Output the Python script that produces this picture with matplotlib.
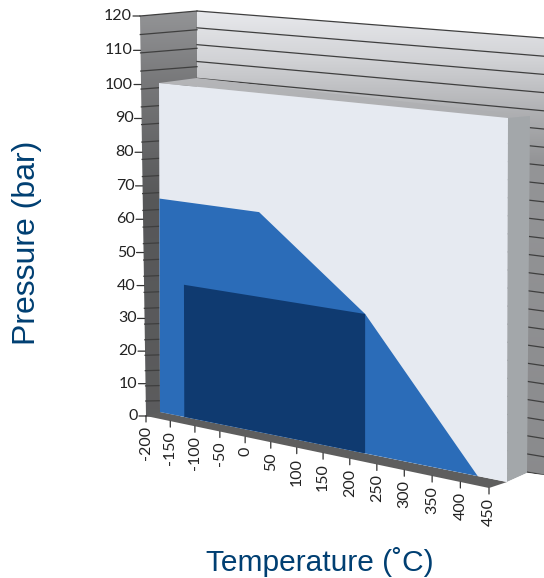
import numpy as np
import matplotlib
matplotlib.use("Agg")
import matplotlib.pyplot as plt
from matplotlib.patches import Polygon
from matplotlib.transforms import Transform

# Data
temp_ticks = [-200, -150, -100, -50, 0, 50, 100, 150, 200, 250, 300, 350, 400, 450]
pressure_ticks = [0, 10, 20, 30, 40, 50, 60, 70, 80, 90, 100, 110, 120]
grid_pressures = [0, 5, 10, 15, 20, 25, 30, 35, 40, 45, 50, 55, 60, 65, 70, 75, 80, 85, 90, 95, 100, 105, 110, 115, 120]

outer_temp = [-200, 0, 200, 400]
outer_pressure = [65, 65, 40, 0]
inner_temp = [-150, 200]
inner_pressure = [0, 40]

NAVY = "#003f72"


# Maps one plane of the fake 3D box onto the picture (pixels, y down)
class Plane(Transform):
    input_dims = 2
    output_dims = 2
    is_separable = False

    def __init__(self, src, dst):
        super().__init__()
        rows = []
        rhs = []
        for (u, v), (x, y) in zip(src, dst):
            rows.append([u, v, 1, 0, 0, 0, -u * x, -v * x])
            rows.append([0, 0, 0, u, v, 1, -u * y, -v * y])
            rhs += [x, y]
        h = np.linalg.solve(np.array(rows, float), np.array(rhs, float))
        self.h = np.append(h, 1).reshape(3, 3)

    def transform_non_affine(self, values):
        pts = np.column_stack([values, np.ones(len(values))]) @ self.h.T
        return pts[:, :2] / pts[:, 2:]


fig = plt.figure(figsize=(5.44, 5.78), dpi=100)
ax = fig.add_axes([0, 0, 1, 1])
ax.axis("off")

t_min, t_max = temp_ticks[0], temp_ticks[-1]
p_max = pressure_ticks[-1]

# Same corners in data units, different picture corners for each plane
data_box = [(t_min, 0), (t_max, 0), (t_max, 100), (t_min, 100)]
face_plane = Plane(data_box, [(160, 412), (507, 482), (508, 118), (159, 83)])
axis_plane = Plane([(t_min, 0), (t_max, 0), (t_max, p_max), (t_min, p_max)],
                   [(146, 416), (489, 488), (495, 52), (140, 16)])
back_plane = Plane([(0, 0), (1, 0), (1, p_max), (0, p_max)],
                   [(197, 415), (544, 475), (544, 38), (197, 11)])
side_plane = Plane([(0, 0), (1, 0), (1, p_max), (0, p_max)],
                   [(146, 416), (197, 415), (197, 11), (140, 16)])


def gradient(corners, stops, z):
    # vertical gradient clipped to a polygon, stops are (y pixel, grey level)
    ys = np.arange(0, 578)
    levels = np.interp(ys, [s[0] for s in stops], [s[1] for s in stops])
    rgb = np.stack([levels, levels * 1.005, levels * 1.02], axis=1).clip(0, 1)[:, None, :]
    im = ax.imshow(rgb, extent=(0, 544, 578, 0), aspect="auto", zorder=z)
    im.set_clip_path(Polygon(corners, transform=ax.transData))


# Walls
gradient([(197, 11), (544, 38), (544, 475), (197, 415)],
         [(10, 0.91), (60, 0.82), (115, 0.68), (160, 0.58), (480, 0.54)], 1)
gradient([(140, 16), (197, 11), (197, 415), (146, 416)],
         [(10, 0.58), (80, 0.47), (200, 0.34), (420, 0.36)], 1)

# Grid lines on both walls
for p in grid_pressures:
    ax.plot([0, 1], [p, p], color="#3f3f3f", lw=0.9, zorder=2, transform=back_plane + ax.transData)
    ax.plot([0, 1], [p, p], color="#3f3f3f", lw=0.9, zorder=2, transform=side_plane + ax.transData)

# Slab top and right side, then floor strip
gradient([(159, 83), (197, 78), (530, 116), (508, 118)], [(78, 0.71), (118, 0.68)], 3)
ax.add_patch(Polygon([(508, 118), (530, 116), (527, 473), (507, 482)], fc="#a3a7aa", ec="none", zorder=3))
ax.add_patch(Polygon([(489, 488), (507, 482), (527, 473), (544, 475), (544, 478), (507, 487)], fc="white", ec="none", zorder=3))
ax.add_patch(Polygon([(146, 416), (160, 412), (507, 482), (489, 488)], fc="#5e5e5e", ec="none", zorder=3))

# Slab front and the two regions
ax.add_patch(Polygon(data_box, fc="#e6eaf1", ec="none", zorder=4, transform=face_plane + ax.transData))
outer = list(zip(outer_temp, outer_pressure)) + [(t_min, 0)]
ax.add_patch(Polygon(outer, fc="#2b6cb8", ec="none", zorder=5, transform=face_plane + ax.transData))
inner = [(inner_temp[0], inner_pressure[0]), (inner_temp[1], inner_pressure[0]),
         (inner_temp[1], inner_pressure[1]), (inner_temp[0], inner_pressure[1])]
ax.add_patch(Polygon(inner, fc="#0f3a70", ec="none", zorder=6, transform=face_plane + ax.transData))

# Ticks and labels
axis_tr = axis_plane + ax.transData
for p in pressure_ticks:
    ax.annotate("", xy=(t_min, p), xycoords=axis_tr, xytext=(-7, 0), textcoords="offset pixels",
                arrowprops=dict(arrowstyle="-", color="#333333", lw=0.9, shrinkA=0, shrinkB=0))
    ax.annotate(str(p), xy=(t_min, p), xycoords=axis_tr, xytext=(-8, 0), textcoords="offset pixels",
                ha="right", va="center", fontsize=11.5, family="Lato", color="#222222")
for t in temp_ticks:
    ax.annotate("", xy=(t, 0), xycoords=axis_tr, xytext=(0, -6), textcoords="offset pixels",
                arrowprops=dict(arrowstyle="-", color="#333333", lw=0.9, shrinkA=0, shrinkB=0))
    ax.annotate(str(t), xy=(t, 0), xycoords=axis_tr, xytext=(0, -10), textcoords="offset pixels",
                rotation=90, ha="center", va="top", fontsize=11.5, family="Lato", color="#222222")

# Axis titles
ax.text(27, 243, "Pressure (bar)", rotation=90, ha="center", va="center",
        fontsize=23, family="Liberation Sans", color=NAVY)
ax.text(320, 562, "Temperature (˚C)", ha="center", va="center",
        fontsize=21.5, family="Liberation Sans", color=NAVY)

ax.set_xlim(0, 544)
ax.set_ylim(578, 0)
fig.savefig("out.png", dpi=100)
